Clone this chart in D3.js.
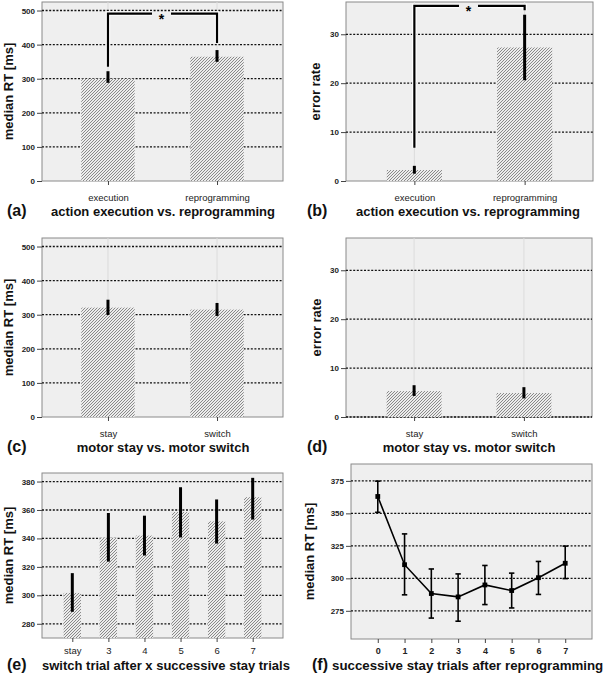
<!DOCTYPE html>
<html>
<head>
<meta charset="utf-8">
<script src="https://cdn.jsdelivr.net/npm/d3@7"></script>
<style>
  html, body { margin: 0; padding: 0; background: #fff; }
  svg { display: block; font-family: "Liberation Sans", Arial, Helvetica, sans-serif; }
</style>
</head>
<body>
<svg id="chart" width="605" height="675"></svg>
<script>
// ---------------- DATA ----------------
const catsAB = ["execution", "reprogramming"];
const rtA = [300, 364.5];
const rtALow = [288, 349.5];
const rtAHigh = [322, 384];
const bracketA = { top: 491, leftEnd: 335, rightEnd: 405 };

const errB = [2.25, 27.3];
const errBLow = [1.5, 20.6];
const errBHigh = [3.1, 34];
const bracketB = { top: 35.8, leftEnd: 6.8, rightEnd: 34.9 };

const catsCD = ["stay", "switch"];
const rtC = [320.8, 315];
const rtCLow = [299, 296.5];
const rtCHigh = [344, 334.5];

const errD = [5.3, 4.9];
const errDLow = [4.3, 3.8];
const errDHigh = [6.5, 6.1];

const catsE = ["stay", "3", "4", "5", "6", "7"];
const rtE = [301.7, 340.4, 342, 358.6, 352, 369];
const rtELow = [288.4, 323.7, 328, 340.7, 336.4, 353.3];
const rtEHigh = [315.6, 357.9, 356, 376, 367.4, 382.6];

const trialsF = [0, 1, 2, 3, 4, 5, 6, 7];
const rtF = [363, 310.5, 288.3, 285.7, 294.9, 290.6, 300.5, 311.6];
const rtFLow = [350.8, 287.3, 269.4, 267, 279.8, 277.2, 287.6, 299.8];
const rtFHigh = [374.8, 334.2, 307.2, 303.4, 309.9, 304, 313, 324.8];

const ticksRT = [0, 100, 200, 300, 400, 500];
const ticksErr = [0, 10, 20, 30];
const ticksE = [280, 300, 320, 340, 360, 380];
const ticksF = [275, 300, 325, 350, 375];

// ---------------- DRAWING ----------------
const svg = d3.select("#chart");
const defs = svg.append("defs");
const pat = defs.append("pattern")
  .attr("id", "hatch").attr("patternUnits", "userSpaceOnUse")
  .attr("width", 3).attr("height", 3);
pat.append("rect").attr("width", 3).attr("height", 3).attr("fill", "#ececec");
pat.append("path").attr("d", "M-1,1 L1,-1 M0,3 L3,0 M2,4 L4,2")
  .attr("stroke", "#777").attr("stroke-width", 0.85);

function frame(g, b, y, ticks, gridZero) {
  g.append("rect").attr("x", b.x0).attr("y", b.y0)
    .attr("width", b.x1 - b.x0).attr("height", b.y1 - b.y0)
    .attr("fill", "#efefef").attr("stroke", "#8a8a8a").attr("stroke-width", 1);
  return function grid() {
    g.append("g").selectAll("line").data(ticks.filter(t => gridZero || t !== 0))
      .join("line")
      .attr("x1", b.x0).attr("x2", b.x1)
      .attr("y1", d => y(d)).attr("y2", d => y(d))
      .attr("stroke", "#111").attr("stroke-width", 1.3).attr("stroke-dasharray", "2,1.6");
  };
}

function yAxis(g, b, y, ticks) {
  const ax = g.append("g").attr("transform", `translate(${b.x0},0)`)
    .call(d3.axisLeft(y).tickValues(ticks).tickSize(5).tickPadding(2));
  ax.select(".domain").remove();
  ax.selectAll("line").attr("stroke", "#444");
  ax.selectAll("text").attr("font-size", 8).attr("fill", "#222")
    .attr("font-family", "Liberation Sans, Arial, sans-serif").attr("font-weight", "bold");
}

function xAxis(g, b, x, labels, fs, pad) {
  const ax = g.append("g").attr("transform", `translate(0,${b.y1})`)
    .call(d3.axisBottom(x).tickValues(labels).tickSize(4).tickPadding(pad));
  ax.select(".domain").remove();
  ax.selectAll("line").attr("stroke", "#444");
  ax.selectAll("text").attr("font-size", fs).attr("fill", "#222")
    .attr("font-family", "Liberation Sans, Arial, sans-serif");
}

function titles(g, b, letter, letterX, title, titleX, anchor, yTitle, yTitleX, tfs) {
  const ty = Math.min(b.y1 + 35, 670);
  g.append("text").attr("x", letterX).attr("y", ty)
    .attr("font-size", 16).attr("font-weight", "bold").attr("fill", "#111").text(letter);
  g.append("text").attr("x", titleX).attr("y", ty)
    .attr("text-anchor", anchor).attr("font-size", tfs || 13).attr("font-weight", "bold")
    .attr("fill", "#111").text(title);
  g.append("text")
    .attr("transform", `translate(${yTitleX},${(b.y0 + b.y1) / 2}) rotate(-90)`)
    .attr("text-anchor", "middle").attr("font-size", 13).attr("font-weight", "bold")
    .attr("fill", "#111").text(yTitle);
}

function barPanel(o) {
  const g = svg.append("g");
  const b = o.box;
  const x = d3.scalePoint().domain(o.cats).range([b.x0, b.x1]).padding(o.pad);
  const y = d3.scaleLinear().domain(o.domain).range([b.y1, b.y0]);
  const grid = frame(g, b, y, o.ticks, o.gridZero);
  if (o.vgrid) {
    g.append("g").selectAll("line").data(o.cats).join("line")
      .attr("x1", d => x(d)).attr("x2", d => x(d))
      .attr("y1", b.y0).attr("y2", b.y1)
      .attr("stroke", "#dcdcdc").attr("stroke-width", 1);
  }
  grid();
  const bw = x.step() * o.bw;
  g.append("g").selectAll("rect").data(o.cats).join("rect")
    .attr("x", d => x(d) - bw / 2).attr("width", bw)
    .attr("y", (d, i) => y(o.vals[i]))
    .attr("height", (d, i) => y(o.domain[0]) - y(o.vals[i]))
    .attr("fill", "url(#hatch)");
  g.append("g").selectAll("line").data(o.cats).join("line")
    .attr("x1", d => x(d)).attr("x2", d => x(d))
    .attr("y1", (d, i) => y(o.lo[i])).attr("y2", (d, i) => y(o.hi[i]))
    .attr("stroke", "#000").attr("stroke-width", 3);
  if (o.bracket) {
    const br = o.bracket;
    const xl = x(o.cats[0]), xr = x(o.cats[1]);
    const xm = (xl + xr) / 2 - 1, gap = 9.5;
    const yt = y(br.top);
    const d = `M${xl},${y(br.leftEnd)} L${xl},${yt} L${xm - gap},${yt} M${xm + gap},${yt} L${xr},${yt} L${xr},${y(br.rightEnd)}`;
    g.append("path").attr("d", d).attr("fill", "none").attr("stroke", "#fff").attr("stroke-width", 4.5);
    g.append("path").attr("d", d).attr("fill", "none").attr("stroke", "#000").attr("stroke-width", 2.2);
    g.append("text").attr("x", xm).attr("y", yt + 10).attr("text-anchor", "middle")
      .attr("font-size", 14).attr("font-weight", "bold").text("*");
  }
  yAxis(g, b, y, o.ticks.filter(t => t >= o.domain[0]));
  xAxis(g, b, x, o.cats, o.xfs || 9.5, o.xpad || 9);
  titles(g, b, o.letter, o.letterX, o.title, o.titleX, o.anchor, o.yTitle, o.yTitleX);
}

barPanel({
  box: { x0: 42, x1: 283, y0: 2, y1: 181 }, cats: catsAB, pad: 0.605, bw: 0.49,
  domain: [0, 525], ticks: ticksRT, vals: rtA, lo: rtALow, hi: rtAHigh,
  bracket: bracketA, vgrid: true,
  letter: "(a)", letterX: 7, title: "action execution vs. reprogramming", titleX: 163, anchor: "middle",
  yTitle: "median RT [ms]", yTitleX: 12.5
});
barPanel({
  box: { x0: 346, x1: 593, y0: 2, y1: 181 }, cats: catsAB, pad: 0.62, bw: 0.5,
  domain: [0, 36.6], ticks: ticksErr, vals: errB, lo: errBLow, hi: errBHigh,
  bracket: bracketB, vgrid: true,
  letter: "(b)", letterX: 307, title: "action execution vs. reprogramming", titleX: 468, anchor: "middle",
  yTitle: "error rate", yTitleX: 320
});
barPanel({
  box: { x0: 42, x1: 283, y0: 238, y1: 417 }, cats: catsCD, pad: 0.605, bw: 0.49,
  domain: [0, 525], ticks: ticksRT, vals: rtC, lo: rtCLow, hi: rtCHigh, vgrid: true,
  letter: "(c)", letterX: 7, title: "motor stay vs. motor switch", titleX: 163, anchor: "middle",
  yTitle: "median RT [ms]", yTitleX: 12.5
});
barPanel({
  box: { x0: 346, x1: 592, y0: 238, y1: 417 }, cats: catsCD, pad: 0.62, bw: 0.5,
  domain: [0, 36.6], ticks: ticksErr, vals: errD, lo: errDLow, hi: errDHigh, vgrid: true, gridZero: true,
  letter: "(d)", letterX: 307, title: "motor stay vs. motor switch", titleX: 469, anchor: "middle",
  yTitle: "error rate", yTitleX: 321
});
barPanel({
  box: { x0: 42, x1: 283, y0: 473, y1: 638 }, cats: catsE, pad: 0.84, bw: 0.48,
  domain: [270, 386], ticks: ticksE, vals: rtE, lo: rtELow, hi: rtEHigh, vgrid: false, gridZero: true,
  xpad: 5,
  letter: "(e)", letterX: 7, title: "switch trial after x successive stay trials", titleX: 42, anchor: "start",
  yTitle: "median RT [ms]", yTitleX: 12.5
});

// Panel (f): line chart with error bars
(function () {
  const g = svg.append("g");
  const b = { x0: 351, x1: 592, y0: 464, y1: 639 };
  const x = d3.scaleLinear().domain([-1, 8]).range([b.x0, b.x1]);
  const y = d3.scaleLinear().domain([253.3, 388]).range([b.y1, b.y0]);
  const grid = frame(g, b, y, ticksF, true);
  grid();
  const pts = trialsF.map((t, i) => ({ t, v: rtF[i], lo: rtFLow[i], hi: rtFHigh[i] }));
  g.append("path").datum(pts)
    .attr("d", d3.line().x(d => x(d.t)).y(d => y(d.v)))
    .attr("fill", "none").attr("stroke", "#000").attr("stroke-width", 1.6);
  const eb = g.append("g").selectAll("g").data(pts).join("g");
  eb.append("line").attr("x1", d => x(d.t)).attr("x2", d => x(d.t))
    .attr("y1", d => y(d.lo)).attr("y2", d => y(d.hi))
    .attr("stroke", "#000").attr("stroke-width", 1.6);
  eb.selectAll(".cap").data(d => [[d.t, d.lo], [d.t, d.hi]]).join("line")
    .attr("x1", d => x(d[0]) - 2.7).attr("x2", d => x(d[0]) + 2.7)
    .attr("y1", d => y(d[1])).attr("y2", d => y(d[1]))
    .attr("stroke", "#000").attr("stroke-width", 1.6);
  eb.append("rect").attr("x", d => x(d.t) - 2.4).attr("y", d => y(d.v) - 2.4)
    .attr("width", 4.8).attr("height", 4.8).attr("fill", "#000");
  yAxis(g, b, y, ticksF);
  const ax = g.append("g").attr("transform", `translate(0,${b.y1})`)
    .call(d3.axisBottom(x).tickValues(trialsF).tickFormat(d3.format("d")).tickSize(4).tickPadding(5));
  ax.select(".domain").remove();
  ax.selectAll("line").attr("stroke", "#444");
  ax.selectAll("text").attr("font-size", 9).attr("fill", "#222").attr("font-weight", "bold")
    .attr("font-family", "Liberation Sans, Arial, sans-serif");
  titles(g, b, "(f)", 312, "successive stay trials after reprogramming", 332, "start",
    "median RT [ms]", 314, 13.3);
})();
</script>
</body>
</html>
